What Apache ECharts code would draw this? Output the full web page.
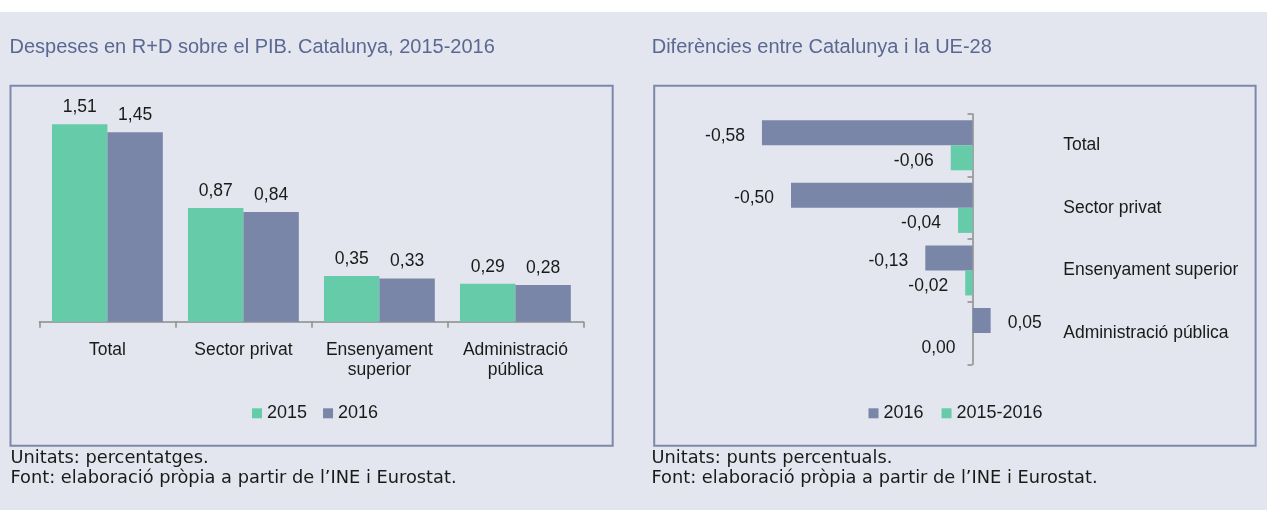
<!DOCTYPE html>
<html>
<head>
<meta charset="utf-8">
<script src="https://cdn.jsdelivr.net/npm/echarts@6/dist/echarts.min.js"></script>
<style>
html,body{margin:0;padding:0;background:#ffffff;}
#chart{width:1267px;height:510px;}
</style>
</head>
<body>
<div id="chart"></div>
<script>
// ---- data ----
const titleLeft = 'Despeses en R+D sobre el PIB. Catalunya, 2015-2016';
const titleRight = 'Diferències entre Catalunya i la UE-28';
const categoriesLeft = ['Total', 'Sector privat', 'Ensenyament\nsuperior', 'Administració\npública'];
const categoriesRight = ['Total', 'Sector privat', 'Ensenyament superior', 'Administració pública'];
const values2015 = [1.51, 0.87, 0.35, 0.29];
const values2016 = [1.45, 0.84, 0.33, 0.28];
const diff2016 = [-0.58, -0.50, -0.13, 0.05];
const diff2015to2016 = [-0.06, -0.04, -0.02, 0.00];
const notesLeft = ['Unitats: percentatges.', "Font: elaboració pròpia a partir de l’INE i Eurostat."];
const notesRight = ['Unitats: punts percentuals.', "Font: elaboració pròpia a partir de l’INE i Eurostat."];

// ---- styles ----
const GREEN = '#66cba8';
const BLUE = '#7a86a8';
const AXIS = '#8c8c8c';
const TXT = '#1a1a1a';
const FONT = '"Liberation Sans", Arial, sans-serif';
const NOTEFONT = '"DejaVu Sans", sans-serif';
const fmt = v => v.toFixed(2).replace('.', ',');

const chart = echarts.init(document.getElementById('chart'), null, {renderer: 'canvas'});

function noteTexts(lines, x) {
  return lines.map((t, i) => ({
    type: 'text', silent: true,
    style: {text: t, x: x, y: 458.2 + i * 20, fontSize: 17.8, fontFamily: NOTEFONT, fill: TXT, verticalAlign: 'middle', align: 'left'}
  }));
}

const option = {
  animation: false,
  textStyle: {fontFamily: FONT},
  graphic: [
    {type: 'rect', silent: true, z: -10, shape: {x: 0, y: 12, width: 1267, height: 498}, style: {fill: '#e3e6ee'}},
    {type: 'rect', silent: true, shape: {x: 10.5, y: 85.8, width: 602.2, height: 359.9}, style: {fill: null, stroke: '#7d89ab', lineWidth: 2}},
    {type: 'rect', silent: true, shape: {x: 654.2, y: 85.8, width: 601.4, height: 359.9}, style: {fill: null, stroke: '#7d89ab', lineWidth: 2}},
    {type: 'text', silent: true, style: {text: titleLeft, x: 9.5, y: 47.7, fontSize: 20, fontFamily: FONT, fill: '#5b6892', verticalAlign: 'middle'}},
    {type: 'text', silent: true, style: {text: titleRight, x: 651.7, y: 47.7, fontSize: 20, fontFamily: FONT, fill: '#5b6892', verticalAlign: 'middle'}}
  ].concat(noteTexts(notesLeft, 10.5)).concat(noteTexts(notesRight, 651.5)),
  legend: [
    {
      data: ['2015', '2016'], left: 252, top: 403.3, padding: 0, itemGap: 16,
      icon: 'rect', itemWidth: 10, itemHeight: 10, selectedMode: false,
      textStyle: {fontSize: 18, fontFamily: FONT, color: TXT, lineHeight: 20}
    },
    {
      data: ['2016', '2015-2016'], left: 868.5, top: 403.3, padding: 0, itemGap: 18,
      icon: 'rect', itemWidth: 10, itemHeight: 10, selectedMode: false,
      textStyle: {fontSize: 18, fontFamily: FONT, color: TXT, lineHeight: 20}
    }
  ],
  grid: [
    {left: 39.4, top: 112.6, width: 544, height: 209.1, containLabel: false, outerBoundsMode: 'none'},
    {left: 682.1, top: 114, width: 381.15, height: 250.3, containLabel: false, outerBoundsMode: 'none'}
  ],
  xAxis: [
    {
      type: 'category', gridIndex: 0, data: categoriesLeft,
      axisLine: {show: true, lineStyle: {color: AXIS, width: 1.5}},
      axisTick: {show: true, length: 6, lineStyle: {color: AXIS, width: 1.5}},
      axisLabel: {margin: 18, fontSize: 17.5, lineHeight: 20, color: TXT, interval: 0, fontFamily: FONT},
      splitLine: {show: false}
    },
    {type: 'value', gridIndex: 1, min: -0.8, max: 0.25, show: false, splitLine: {show: false}}
  ],
  yAxis: [
    {type: 'value', gridIndex: 0, min: 0, max: 1.6, show: false, splitLine: {show: false}},
    {
      type: 'category', gridIndex: 1, data: categoriesRight, inverse: true, position: 'right',
      axisLine: {show: true, onZero: true, lineStyle: {color: AXIS, width: 1.5}},
      axisTick: {show: true, inside: true, length: 5, lineStyle: {color: AXIS, width: 1.5}},
      axisLabel: {margin: 0, fontSize: 17.5, color: TXT, fontFamily: FONT, interval: 0, padding: [5, 0, 0, 0]},
      splitLine: {show: false}
    }
  ],
  series: [
    {
      name: '2015', type: 'bar', xAxisIndex: 0, yAxisIndex: 0, data: values2015,
      barGap: '0%', barCategoryGap: '18.5%', itemStyle: {color: GREEN},
      label: {show: true, position: 'top', distance: 8, fontSize: 17.5, color: TXT, fontFamily: FONT, formatter: p => fmt(p.value)}
    },
    {
      name: '2016', type: 'bar', xAxisIndex: 0, yAxisIndex: 0, data: values2016,
      barGap: '0%', barCategoryGap: '18.5%', itemStyle: {color: BLUE},
      label: {show: true, position: 'top', distance: 8, fontSize: 17.5, color: TXT, fontFamily: FONT, formatter: p => fmt(p.value)}
    },
    {
      name: '2016', type: 'bar', xAxisIndex: 1, yAxisIndex: 1,
      data: diff2016.map(v => ({value: v, label: {position: v > 0 ? 'right' : 'left'}})),
      barGap: '0%', barCategoryGap: '20%', itemStyle: {color: BLUE},
      label: {show: true, distance: 17, offset: [0, 3], fontSize: 17.5, color: TXT, fontFamily: FONT, formatter: p => fmt(p.value)}
    },
    {
      name: '2015-2016', type: 'bar', xAxisIndex: 1, yAxisIndex: 1,
      data: diff2015to2016.map(v => ({value: v, label: {position: v > 0 ? 'right' : 'left'}})),
      barGap: '0%', barCategoryGap: '20%', itemStyle: {color: GREEN},
      label: {show: true, distance: 17, offset: [0, 3], fontSize: 17.5, color: TXT, fontFamily: FONT, formatter: p => fmt(p.value)}
    }
  ]
};
chart.setOption(option);
</script>
</body>
</html>
